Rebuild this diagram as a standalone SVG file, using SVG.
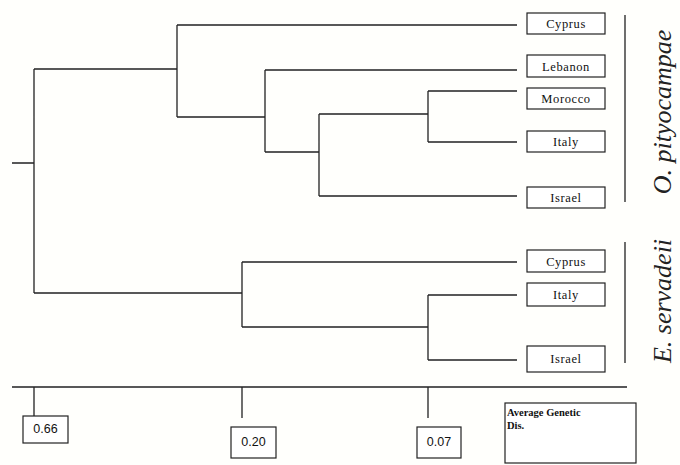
<svg xmlns="http://www.w3.org/2000/svg" width="680" height="465" viewBox="0 0 680 465">
<style>
.l{stroke:#222;stroke-width:1.3;fill:none}
.b{fill:#fff;stroke:#222;stroke-width:1.2}
.t{font-family:"Liberation Serif",serif;font-size:12.5px;letter-spacing:0.6px;fill:#111;text-anchor:middle}
.n{font-family:"Liberation Sans",sans-serif;font-size:12.5px;fill:#111;text-anchor:middle}
.lg{font-family:"Liberation Serif",serif;font-size:10.5px;font-weight:bold;fill:#111}
.sp{font-family:"Liberation Serif",serif;font-style:italic;font-size:26px;fill:#222;text-anchor:middle}
</style>
<rect width="680" height="465" fill="#fffffc"/>
<g id="connectors">
<path class="l" d="M12 163H34M34 69V293M34 69H177M177 25V117M177 25H517M177 117H265M265 70V152M265 70H517M265 152H319M319 114V196M319 114H428M428 91V142M428 91H517M428 142H517M319 196H517"/>
<path class="l" d="M34 293H242M242 262V327M242 262H517M242 327H428M428 295V360M428 295H517M428 360H517"/>
<path class="l" d="M625 15V202M625 242V363"/>
<path class="l" d="M12 387H627M34 387V416M242 387V418M428 387V418"/>
</g>
<g id="n-cyprus-o"><rect class="b" x="527" y="13" width="78" height="21"/><text class="t" x="566" y="28">Cyprus</text></g>
<g id="n-lebanon"><rect class="b" x="527" y="55" width="78" height="22"/><text class="t" x="566" y="70.5">Lebanon</text></g>
<g id="n-morocco"><rect class="b" x="527" y="88" width="78" height="21"/><text class="t" x="566" y="103">Morocco</text></g>
<g id="n-italy-o"><rect class="b" x="527" y="131" width="78" height="21"/><text class="t" x="566" y="146">Italy</text></g>
<g id="n-israel-o"><rect class="b" x="527" y="187" width="78" height="21"/><text class="t" x="566" y="202">Israel</text></g>
<g id="n-cyprus-e"><rect class="b" x="527" y="250" width="78" height="22"/><text class="t" x="566" y="265.5">Cyprus</text></g>
<g id="n-italy-e"><rect class="b" x="527" y="283" width="78" height="23"/><text class="t" x="566" y="298.5">Italy</text></g>
<g id="n-israel-e"><rect class="b" x="527" y="346" width="78" height="26"/><text class="t" x="566" y="363">Israel</text></g>
<g id="label-o"><text class="sp" transform="translate(671 112) rotate(-90)">O. pityocampae</text></g>
<g id="label-e"><text class="sp" transform="translate(671 301) rotate(-90)">E. servadeii</text></g>
<g id="s066"><rect class="b" x="23" y="416" width="45" height="27"/><text class="n" x="45.5" y="433">0.66</text></g>
<g id="s020"><rect class="b" x="231" y="427" width="45" height="31"/><text class="n" x="253.5" y="446">0.20</text></g>
<g id="s007"><rect class="b" x="417" y="427" width="44" height="31"/><text class="n" x="439" y="446">0.07</text></g>
<g id="legend"><rect class="b" x="505" y="403" width="131" height="60"/><text class="lg" x="507" y="416">Average Genetic</text><text class="lg" x="507" y="429">Dis.</text></g>
</svg>
